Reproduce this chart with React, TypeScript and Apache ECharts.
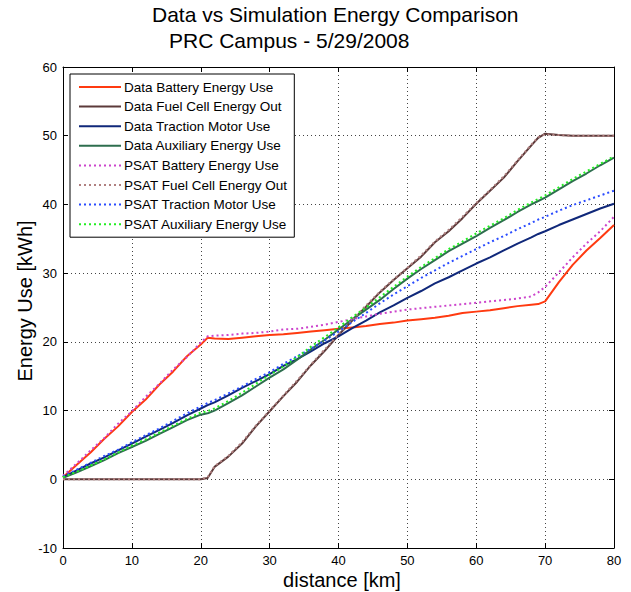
import React, { useEffect, useRef } from "react";
import * as echarts from "echarts";

const distance = [0,2,4,6,8,10,12,14,16,18,20,21,22,24,26,28,30,32,34,36,38,40,42,44,46,48,50,52,54,56,58,60,62,64,66,68,69,70,72,74,76,78,80];

const dataBattery = [0.3,2.1,3.9,5.9,7.7,9.8,11.6,13.8,15.7,17.9,19.6,20.6,20.5,20.4,20.6,20.8,21.0,21.1,21.3,21.5,21.7,21.9,22.1,22.3,22.6,22.8,23.1,23.3,23.5,23.8,24.2,24.4,24.6,24.9,25.2,25.4,25.5,25.9,28.7,31.2,33.3,35.1,37.0];
const dataFuelCell = [0,0,0,0,0,0,0,0,0,0,0,0.2,1.8,3.3,5.2,7.7,9.9,12.1,14.2,16.6,18.7,21.0,23.1,25.1,27.2,29.0,30.7,32.4,34.5,36.1,38.0,40.1,42.0,43.9,46.3,48.6,49.7,50.3,50.1,50.0,50.0,50.0,50.0];
const dataTraction = [0.3,1.3,2.3,3.2,4.2,5.2,6.2,7.2,8.2,9.3,10.3,10.8,11.2,12.2,13.3,14.3,15.3,16.5,17.5,18.6,19.8,20.8,22.0,23.1,24.3,25.3,26.4,27.4,28.5,29.4,30.4,31.4,32.3,33.3,34.3,35.2,35.7,36.1,37.0,37.8,38.6,39.4,40.1];
const dataAux = [0.2,1.0,1.9,2.8,3.8,4.7,5.6,6.6,7.6,8.6,9.4,9.6,10.0,11.1,12.2,13.5,14.8,16.0,17.4,18.9,20.3,21.8,23.3,24.7,26.1,27.7,29.2,30.6,31.9,33.2,34.3,35.4,36.6,37.7,38.9,40.0,40.5,41.0,42.2,43.4,44.5,45.7,46.8];
const psatBattery = [0.5,2.3,4.2,6.0,8.1,9.9,12.0,13.9,16.0,17.8,19.9,20.8,20.9,21.0,21.2,21.3,21.5,21.8,21.9,22.2,22.5,22.9,23.3,23.7,24.1,24.4,24.7,24.9,25.1,25.3,25.5,25.7,25.9,26.1,26.3,26.6,27.2,28.0,30.1,32.3,34.3,36.1,38.2];
const psatFuelCell = [0,0,0,0,0,0,0,0,0,0,0,0.3,1.9,3.4,5.4,7.8,10.0,12.2,14.4,16.7,18.9,21.1,23.2,25.3,27.3,29.1,30.8,32.6,34.6,36.3,38.2,40.2,42.1,44.1,46.4,48.7,49.8,50.2,50.1,50.0,50.0,50.0,50.0];
const psatTraction = [0.4,1.4,2.4,3.4,4.3,5.4,6.4,7.4,8.5,9.6,10.6,11.1,11.5,12.5,13.5,14.6,15.6,16.8,17.9,19.0,20.2,21.5,22.9,24.2,25.6,26.9,28.1,29.3,30.4,31.5,32.5,33.5,34.5,35.4,36.4,37.3,37.8,38.2,39.1,39.9,40.6,41.3,42.0];
const psatAux = [0.3,1.1,2.0,2.9,3.9,4.9,5.8,6.8,7.8,8.8,9.7,9.9,10.3,11.4,12.6,13.9,15.2,16.4,17.8,19.3,20.7,22.1,23.6,25.0,26.5,28.0,29.5,30.9,32.2,33.5,34.6,35.8,36.9,38.0,39.2,40.3,40.8,41.3,42.5,43.7,44.8,45.9,47.0];

const seriesNames = [
  "Data Battery Energy Use",
  "Data Fuel Cell Energy Out",
  "Data Traction Motor Use",
  "Data Auxiliary Energy Use",
  "PSAT Battery Energy Use",
  "PSAT Fuel Cell Energy Out",
  "PSAT Traction Motor Use",
  "PSAT Auxiliary Energy Use",
];
const seriesValues = [dataBattery, dataFuelCell, dataTraction, dataAux, psatBattery, psatFuelCell, psatTraction, psatAux];
const seriesColors = ["#ff3a10", "#5c3a3a", "#10287a", "#2e6e4e", "#cc44cc", "#b08080", "#2a4cff", "#22ee22"];

const titleLine1 = "Data vs Simulation Energy Comparison";
const titleLine2 = "PRC Campus - 5/29/2008";
const xLabel = "distance [km]";
const yLabel = "Energy Use [kWh]";

const FONT = "'Liberation Sans', Arial, sans-serif";

export default function App() {
  const ref = useRef<HTMLDivElement>(null);
  useEffect(() => {
    if (!ref.current) return;
    const chart = echarts.init(ref.current, undefined, { renderer: "svg" });
    const series = seriesNames.map((name, k) => ({
      name,
      type: "line",
      xAxisIndex: 0,
      yAxisIndex: 0,
      data: distance.map((d, i) => [d, seriesValues[k][i]]),
      showSymbol: false,
      symbol: "none",
      color: seriesColors[k],
      lineStyle: {
        color: seriesColors[k],
        width: 2,
        type: k >= 4 ? [2, 3] : "solid",
      },
      z: k >= 4 ? 3 : 2,
    }));
    const axisCommon = {
      type: "value",
      axisLine: { show: true, onZero: false, lineStyle: { color: "#000", width: 1 } },
      axisTick: { show: true, inside: true, length: 5, lineStyle: { color: "#000" } },
    };
    chart.setOption({
      animation: false,
      backgroundColor: "#fff",
      grid: { left: 63, right: 17, top: 67, bottom: 44, containLabel: false },
      xAxis: [
        {
          ...axisCommon,
          position: "bottom",
          min: 0, max: 80, interval: 10,
          axisLabel: { color: "#000", fontSize: 13, fontFamily: FONT, margin: 6 },
          splitLine: { show: true, lineStyle: { color: "#444", type: [1, 3], width: 1 } },
        },
        {
          ...axisCommon,
          position: "top",
          min: 0, max: 80, interval: 10,
          axisLabel: { show: false },
          splitLine: { show: false },
        },
      ],
      yAxis: [
        {
          ...axisCommon,
          position: "left",
          min: -10, max: 60, interval: 10,
          axisLabel: { color: "#000", fontSize: 13, fontFamily: FONT, margin: 6 },
          splitLine: { show: true, lineStyle: { color: "#444", type: [1, 3], width: 1 } },
        },
        {
          ...axisCommon,
          position: "right",
          min: -10, max: 60, interval: 10,
          axisLabel: { show: false },
          splitLine: { show: false },
        },
      ],
      legend: {
        data: seriesNames,
        orient: "vertical",
        left: 70,
        top: 74,
        padding: [6, 7, 6, 8],
        itemWidth: 42,
        itemHeight: 12,
        itemGap: 5.6,
        itemStyle: { opacity: 0 },
        backgroundColor: "#fff",
        borderColor: "#000",
        borderWidth: 1,
        borderRadius: 0,
        textStyle: { color: "#000", fontSize: 13.5, fontFamily: FONT, padding: [0, 0, 0, -2] },
      },
      graphic: [
        {
          type: "text",
          left: 152,
          top: 4,
          style: { text: titleLine1, fontSize: 21, fontFamily: FONT, fill: "#000" },
        },
        {
          type: "text",
          left: 169,
          top: 30,
          style: { text: titleLine2, fontSize: 21, fontFamily: FONT, fill: "#000" },
        },
        {
          type: "text",
          x: 342,
          y: 580,
          style: { text: xLabel, fontSize: 20, fontFamily: FONT, fill: "#000", align: "center", verticalAlign: "middle" },
        },
        {
          type: "text",
          x: 25,
          y: 301,
          rotation: Math.PI / 2,
          style: { text: yLabel, fontSize: 20, fontFamily: FONT, fill: "#000", align: "center", verticalAlign: "middle" },
        },
      ],
      series,
    });
    return () => chart.dispose();
  }, []);
  return <div ref={ref} style={{ width: 631, height: 592, position: "absolute", left: 0, top: 0 }} />;
}
